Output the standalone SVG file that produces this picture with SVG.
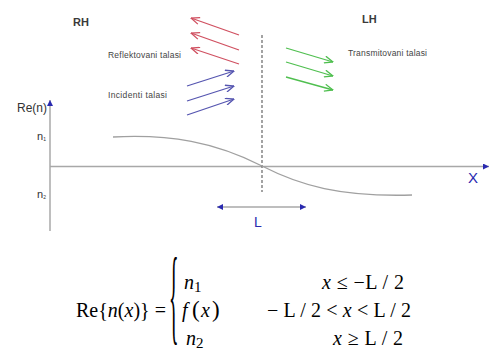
<svg xmlns="http://www.w3.org/2000/svg" width="489" height="356" viewBox="0 0 489 356">
<style>
.lbl{font-family:"Liberation Sans",Arial,sans-serif;fill:#333}
.big{font-size:11px;font-weight:bold;fill:#3a3a3a}
.sm{font-size:8.5px;fill:#444}
.blue{fill:#2a2ab0;font-family:"Liberation Sans",Arial,sans-serif}
.eq{font-family:"Liberation Serif","Times New Roman",serif;font-size:20px;fill:#000}
.it{font-style:italic}
.axis{stroke:#a8a8a8;stroke-width:1.5;fill:none}
.red{stroke:#d05060;stroke-width:1.3;fill:none;marker-end:url(#mr)}
.bl{stroke:#5555b0;stroke-width:1.3;fill:none;marker-end:url(#mb)}
.gr{stroke:#4fbf4f;stroke-width:1.3;fill:none;marker-end:url(#mg)}
</style>
<defs>
<marker id="mr" viewBox="0 0 10 8" refX="9.5" refY="4" markerWidth="10" markerHeight="8" markerUnits="userSpaceOnUse" orient="auto"><path d="M1,0.5 L9.5,4 L1,7.5" fill="none" stroke="#d05060" stroke-width="1.3"/></marker>
<marker id="mb" viewBox="0 0 10 8" refX="9.5" refY="4" markerWidth="10" markerHeight="8" markerUnits="userSpaceOnUse" orient="auto"><path d="M1,0.5 L9.5,4 L1,7.5" fill="none" stroke="#5555b0" stroke-width="1.3"/></marker>
<marker id="mg" viewBox="0 0 10 8" refX="9.5" refY="4" markerWidth="10" markerHeight="8" markerUnits="userSpaceOnUse" orient="auto"><path d="M1,0.5 L9.5,4 L1,7.5" fill="none" stroke="#4fbf4f" stroke-width="1.3"/></marker>
<marker id="tri" viewBox="0 0 6 6" refX="6" refY="3" markerWidth="6" markerHeight="6" markerUnits="userSpaceOnUse" orient="auto-start-reverse"><path d="M0,0 L6,3 L0,6 Z" fill="#2a2ab0"/></marker>
</defs>
<rect width="489" height="356" fill="#fff"/>

<g id="labels">
<text class="lbl big" x="73" y="26">RH</text>
<text class="lbl big" x="362" y="23">LH</text>
<text class="lbl sm" x="108" y="58" textLength="73">Reflektovani talasi</text>
<text class="lbl sm" x="108" y="98" textLength="59">Incidenti talasi</text>
<text class="lbl sm" x="348" y="56" textLength="79">Transmitovani talasi</text>
<text class="lbl" x="17" y="112" font-size="12">Re(n)</text>
<text class="lbl" x="37" y="140" font-size="11">n<tspan font-size="5" dy="1">1</tspan></text>
<text class="lbl" x="37" y="198" font-size="11">n<tspan font-size="5" dy="1">2</tspan></text>
<text class="blue" x="468" y="183" font-size="15">X</text>
<text class="blue" x="254" y="227" font-size="14">L</text>
</g>

<g id="axes">
<line class="axis" x1="50" y1="231" x2="50" y2="100" marker-end="url(#tri)"/>
<line class="axis" x1="50" y1="166.5" x2="489" y2="166.5" marker-end="url(#tri)"/>
<line x1="262" y1="35" x2="262" y2="192" stroke="#666" stroke-width="1.2" stroke-dasharray="3,2"/>
<path d="M113,137 C170,134 215,142 262,166 C300,185.5 340,197 412,195" fill="none" stroke="#a0a0a0" stroke-width="1.4"/>
<line x1="217" y1="207" x2="306" y2="207" stroke="#a8a8a8" stroke-width="1.5" marker-start="url(#tri)" marker-end="url(#tri)"/>
</g>

<g id="connectors">
<line class="red" x1="239" y1="35" x2="191" y2="18"/>
<line class="red" x1="239" y1="50" x2="191" y2="33"/>
<line class="red" x1="239" y1="64" x2="191" y2="48"/>
<line class="bl" x1="187" y1="86" x2="234" y2="71"/>
<line class="bl" x1="187" y1="101" x2="234" y2="86"/>
<line class="bl" x1="187" y1="115" x2="234" y2="99"/>
<line class="gr" x1="286" y1="48" x2="333" y2="62"/>
<line class="gr" x1="286" y1="62" x2="333" y2="76"/>
<line class="gr" x1="286" y1="77" x2="333" y2="90"/>
</g>

<g id="equation">
<text class="eq" x="76" y="317">Re{<tspan class="it">n</tspan>(<tspan class="it">x</tspan>)} =</text>
<text class="eq" transform="translate(169,331) scale(1,5.3)" font-size="20">{</text>
<text class="eq it" x="184" y="289">n<tspan font-style="normal" font-size="15" dy="3">1</tspan></text>
<text class="eq" y="317"><tspan class="it" x="182">f</tspan><tspan x="192" font-size="23">(</tspan><tspan class="it" x="201">x</tspan><tspan x="212" font-size="23">)</tspan></text>
<text class="eq it" x="186" y="345">n<tspan font-style="normal" font-size="15" dy="3">2</tspan></text>
<text class="eq" x="322" y="289" textLength="82"><tspan class="it">x</tspan> ≤ −L / 2</text>
<text class="eq" x="267" y="317" textLength="144">− L / 2 &lt; <tspan class="it">x</tspan> &lt; L / 2</text>
<text class="eq" x="333" y="345" textLength="70"><tspan class="it">x</tspan> ≥ L / 2</text>
</g>
</svg>
